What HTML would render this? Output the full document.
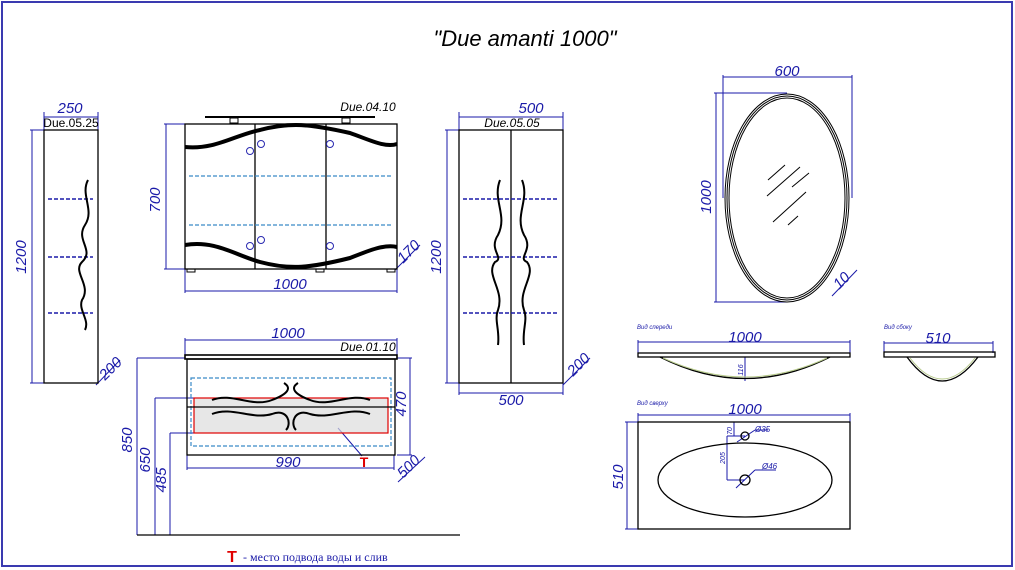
<!DOCTYPE html>
<html><head><meta charset="utf-8"><style>
html,body{margin:0;padding:0;background:#fff;}
svg{display:block;}
text{font-family:"Liberation Sans",sans-serif;font-style:italic;}
.d{fill:#1a1aa8;font-size:15px;}
.l{fill:#000;font-size:11px;}
</style></head><body>
<svg width="1015" height="570" viewBox="0 0 1015 570" xmlns="http://www.w3.org/2000/svg">
<rect x="2" y="2" width="1010" height="564" fill="none" stroke="#3a3ab0" stroke-width="2"/>
<text x="525" y="46" text-anchor="middle" style="font-size:22px" fill="#000">"Due amanti 1000"</text>

<g stroke="#1a1aa8" stroke-width="1" fill="none">
<line x1="44" y1="117" x2="98" y2="117"/><line x1="44" y1="112" x2="44" y2="130"/><line x1="98" y1="112" x2="98" y2="130"/>
<line x1="32" y1="130" x2="32" y2="383"/><line x1="30" y1="130" x2="44" y2="130"/><line x1="30" y1="383" x2="44" y2="383"/>
<line x1="96" y1="385" x2="120" y2="360"/>
<line x1="166" y1="124" x2="166" y2="269"/><line x1="164" y1="124" x2="185" y2="124"/><line x1="164" y1="269" x2="185" y2="269"/>
<line x1="185" y1="291" x2="397" y2="291"/><line x1="185" y1="269" x2="185" y2="293"/><line x1="397" y1="269" x2="397" y2="293"/>
<line x1="395" y1="270" x2="420" y2="245"/>
<line x1="459" y1="117" x2="563" y2="117"/><line x1="459" y1="112" x2="459" y2="130"/><line x1="563" y1="112" x2="563" y2="130"/>
<line x1="447" y1="130" x2="447" y2="383"/><line x1="445" y1="130" x2="459" y2="130"/><line x1="445" y1="383" x2="459" y2="383"/>
<line x1="459" y1="393" x2="563" y2="393"/><line x1="459" y1="383" x2="459" y2="395"/><line x1="563" y1="383" x2="563" y2="395"/>
<line x1="563" y1="385" x2="590" y2="358"/>
<line x1="185" y1="340" x2="397" y2="340"/><line x1="185" y1="338" x2="185" y2="358"/><line x1="397" y1="338" x2="397" y2="358"/>
<line x1="410" y1="358" x2="410" y2="455"/><line x1="397" y1="358" x2="412" y2="358"/><line x1="397" y1="455" x2="412" y2="455"/>
<line x1="187" y1="468" x2="394" y2="468"/><line x1="187" y1="455" x2="187" y2="470"/><line x1="394" y1="455" x2="394" y2="470"/>
<line x1="398" y1="482" x2="425" y2="457"/>
<line x1="137" y1="358" x2="137" y2="535"/><line x1="137" y1="358" x2="185" y2="358"/>
<line x1="155" y1="398" x2="155" y2="535"/><line x1="155" y1="398" x2="194" y2="398"/>
<line x1="170" y1="433" x2="170" y2="535"/><line x1="170" y1="433" x2="194" y2="433"/>
<line x1="338" y1="428" x2="362" y2="456"/>
<line x1="723" y1="77" x2="852" y2="77"/><line x1="723" y1="75" x2="723" y2="198"/><line x1="852" y1="75" x2="852" y2="198"/>
<line x1="716" y1="93" x2="716" y2="302"/><line x1="714" y1="93" x2="787" y2="93"/><line x1="714" y1="302" x2="787" y2="302"/>
<line x1="832" y1="296" x2="857" y2="270"/>
<line x1="638" y1="342" x2="850" y2="342"/><line x1="638" y1="340" x2="638" y2="353"/><line x1="850" y1="340" x2="850" y2="353"/>
<line x1="745" y1="357" x2="745" y2="381"/>
<line x1="884" y1="343" x2="993" y2="343"/><line x1="884" y1="341" x2="884" y2="353"/><line x1="993" y1="341" x2="993" y2="353"/>
<line x1="638" y1="415" x2="850" y2="415"/><line x1="638" y1="413" x2="638" y2="422"/><line x1="850" y1="413" x2="850" y2="422"/>
<line x1="627" y1="422" x2="627" y2="529"/><line x1="625" y1="422" x2="638" y2="422"/><line x1="625" y1="529" x2="638" y2="529"/>
<line x1="734" y1="422" x2="734" y2="436"/><line x1="727" y1="436" x2="745" y2="436"/><line x1="727" y1="436" x2="727" y2="480"/><line x1="727" y1="480" x2="745" y2="480"/>
<line x1="737" y1="442" x2="755" y2="430"/><line x1="755" y1="430" x2="768" y2="430"/>
<line x1="736" y1="488" x2="755" y2="470"/><line x1="755" y1="470" x2="776" y2="470"/>
</g>

<text class="d" x="70" y="113" text-anchor="middle">250</text>
<text class="l" x="71" y="127" text-anchor="middle" style="font-style:normal;font-size:12px">Due.05.25</text>
<text class="d" transform="translate(26,257) rotate(-90)" text-anchor="middle">1200</text>
<text class="d" transform="translate(114,372) rotate(-45)" text-anchor="middle">200</text>
<text class="l" x="368" y="111" text-anchor="middle" style="font-size:12px">Due.04.10</text>
<text class="d" transform="translate(160,200) rotate(-90)" text-anchor="middle">700</text>
<text class="d" x="290" y="289" text-anchor="middle">1000</text>
<text class="d" transform="translate(412,255) rotate(-45)" text-anchor="middle">170</text>
<text class="d" x="531" y="113" text-anchor="middle">500</text>
<text class="l" x="512" y="127" text-anchor="middle" style="font-size:12px">Due.05.05</text>
<text class="d" transform="translate(441,257) rotate(-90)" text-anchor="middle">1200</text>
<text class="d" x="511" y="405" text-anchor="middle">500</text>
<text class="d" transform="translate(582,368) rotate(-45)" text-anchor="middle">200</text>
<text class="d" x="288" y="338" text-anchor="middle">1000</text>
<text class="l" x="368" y="351" text-anchor="middle" style="font-size:12px">Due.01.10</text>
<text class="d" transform="translate(406,404) rotate(-90)" text-anchor="middle">470</text>
<text class="d" x="288" y="467" text-anchor="middle">990</text>
<text class="d" transform="translate(412,470) rotate(-45)" text-anchor="middle">500</text>
<text class="d" transform="translate(132,440) rotate(-90)" text-anchor="middle">850</text>
<text class="d" transform="translate(150,460) rotate(-90)" text-anchor="middle">650</text>
<text class="d" transform="translate(166,480) rotate(-90)" text-anchor="middle">485</text>
<text x="364" y="467" text-anchor="middle" style="font-style:normal;font-weight:bold;font-size:14px" fill="#e00000">T</text>
<text x="232" y="562" text-anchor="middle" style="font-style:normal;font-weight:bold;font-size:16px" fill="#e00000">T</text>
<text x="243" y="561" style="font-family:'Liberation Serif',serif;font-style:normal;font-size:12px" fill="#1a1aa8">- место подвода воды и слив</text>
<text class="d" x="787" y="76" text-anchor="middle">600</text>
<text class="d" transform="translate(711,197) rotate(-90)" text-anchor="middle">1000</text>
<text class="d" transform="translate(845,284) rotate(-45)" text-anchor="middle">10</text>
<text x="637" y="329" style="font-size:6px" fill="#1a1aa8">Вид спереди</text>
<text class="d" x="745" y="342" text-anchor="middle">1000</text>
<text x="884" y="329" style="font-size:6px" fill="#1a1aa8">Вид сбоку</text>
<text class="d" x="938" y="343" text-anchor="middle">510</text>
<text x="637" y="405" style="font-size:6px" fill="#1a1aa8">Вид сверху</text>
<text class="d" x="745" y="414" text-anchor="middle">1000</text>
<text class="d" transform="translate(623,477) rotate(-90)" text-anchor="middle">510</text>
<text transform="translate(743,370) rotate(-90)" text-anchor="middle" style="font-size:7px" fill="#1a1aa8">116</text>
<text transform="translate(732,431) rotate(-90)" text-anchor="middle" style="font-size:7px" fill="#1a1aa8">70</text>
<text transform="translate(725,458) rotate(-90)" text-anchor="middle" style="font-size:7px" fill="#1a1aa8">205</text>
<text x="755" y="432" style="font-size:8px" fill="#1a1aa8">Ø35</text>
<text x="762" y="469" style="font-size:8px" fill="#1a1aa8">Ø46</text>

<g stroke="#000" fill="none" stroke-width="1.3">
<rect x="44" y="130" width="54" height="253"/>
<line x1="205" y1="117" x2="375" y2="117" stroke-width="2"/>
<rect x="230" y="118" width="8" height="5" stroke-width="1"/><rect x="342" y="118" width="8" height="5" stroke-width="1"/>
<rect x="185" y="124" width="212" height="145"/>
<rect x="187" y="269" width="8" height="3" stroke-width="1"/><rect x="316" y="269" width="8" height="3" stroke-width="1"/><rect x="387" y="269" width="8" height="3" stroke-width="1"/>
<line x1="255" y1="124" x2="255" y2="269"/><line x1="326" y1="124" x2="326" y2="269"/>
<path d="M185 147 C215 150 235 135 260 130 C290 122 310 124 350 133 C370 140 385 148 397 144" stroke-width="4"/>
<path d="M185 245 C215 240 235 255 260 262 C290 270 310 268 350 258 C370 250 385 244 397 247" stroke-width="4"/>
<rect x="459" y="130" width="104" height="253"/>
<line x1="511" y1="130" x2="511" y2="383"/>
<rect x="185" y="355" width="212" height="4" stroke-width="1.6"/>
<rect x="187" y="359" width="208" height="96"/>
<line x1="137" y1="535" x2="460" y2="535"/>
<ellipse cx="787" cy="198" rx="62" ry="104" stroke-width="1"/>
<ellipse cx="787" cy="198" rx="60" ry="102" stroke-width="1"/>
<ellipse cx="787" cy="198" rx="58" ry="100" stroke-width="1"/>
<g stroke-width="1"><line x1="768" y1="180" x2="785" y2="165"/><line x1="767" y1="196" x2="800" y2="167"/><line x1="792" y1="187" x2="809" y2="173"/><line x1="773" y1="222" x2="806" y2="192"/><line x1="788" y1="225" x2="798" y2="216"/></g>
<rect x="638" y="353" width="212" height="4"/>
<path d="M660 357 Q745 400 830 357" />
<rect x="884" y="352" width="111" height="5"/>
<path d="M907 357 Q942 405 978 357"/>
<rect x="638" y="422" width="212" height="107"/>
<ellipse cx="745" cy="480" rx="87" ry="37"/>
<circle cx="745" cy="436" r="4"/><circle cx="745" cy="480" r="5"/>
</g>
<g stroke="#b6c98a" fill="none" stroke-width="1"><path d="M663 358 Q745 396 827 358"/><path d="M910 358 Q942 400 975 358"/></g>

<g stroke="#1a1aa8" stroke-width="1.5" stroke-dasharray="4,2">
<line x1="48" y1="199" x2="93" y2="199"/><line x1="48" y1="257" x2="93" y2="257"/><line x1="48" y1="313" x2="93" y2="313"/>
<line x1="463" y1="199" x2="559" y2="199"/><line x1="463" y1="257" x2="559" y2="257"/><line x1="463" y1="313" x2="559" y2="313"/>
</g>
<g stroke="#3a8ac8" stroke-width="1.2" stroke-dasharray="4,2" fill="none">
<line x1="189" y1="176" x2="393" y2="176"/><line x1="189" y1="225" x2="393" y2="225"/>
<rect x="191" y="378" width="200" height="68"/>
</g>
<rect x="194" y="398" width="194" height="35" fill="#ddd" fill-opacity="0.7" stroke="#e00000" stroke-width="1.2"/>
<line x1="187" y1="407" x2="395" y2="407" stroke="#000" stroke-width="1.3"/>
<g stroke="#2a2ab0" fill="none"><circle cx="250" cy="151" r="3.5"/><circle cx="261" cy="144" r="3.5"/><circle cx="330" cy="144" r="3.5"/><circle cx="250" cy="246" r="3.5"/><circle cx="261" cy="240" r="3.5"/><circle cx="330" cy="246" r="3.5"/></g>
<g stroke="#000" fill="none" stroke-width="2">
<path d="M88 180 C80 195 95 210 85 225 C75 240 95 250 82 262 C72 272 92 285 82 300 C78 310 90 320 85 330"/>
<path d="M500 180 C492 200 508 215 498 235 C488 250 505 258 495 262 C485 275 505 290 498 310 C494 320 500 330 498 345"/>
<path d="M522 180 C530 200 514 215 524 235 C534 250 517 258 527 262 C537 275 517 290 524 310 C528 320 522 330 524 345"/>
<path d="M212 400 C232 392 252 408 272 400 C288 394 292 388 284 383 M298 383 C290 388 294 394 310 400 C330 408 350 392 370 400"/>
<path d="M212 414 C232 406 252 420 272 414 C288 408 292 424 286 430 M296 430 C290 424 294 408 310 414 C330 420 350 406 370 414"/>
</g>
</svg>
</body></html>
